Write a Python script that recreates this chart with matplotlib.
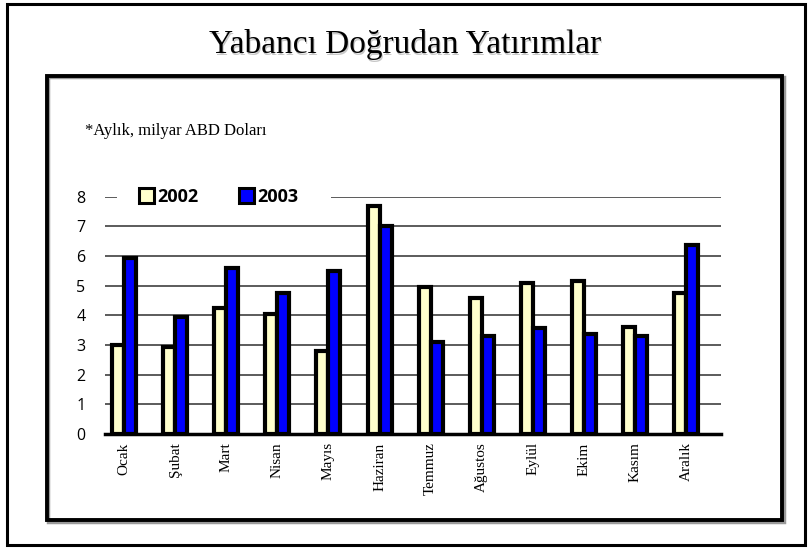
import matplotlib
matplotlib.use("Agg")
import matplotlib.pyplot as plt
from matplotlib.patches import Rectangle, Patch
import numpy as np

months = ["Ocak", "Şubat", "Mart", "Nisan", "Mayıs", "Haziran", "Temmuz",
          "Ağustos", "Eylül", "Ekim", "Kasım", "Aralık"]
v2002 = [3.0, 2.94, 4.25, 4.03, 2.8, 7.69, 4.94, 4.6, 5.1, 5.16, 3.61, 4.76]
v2003 = [5.95, 3.95, 5.58, 4.74, 5.49, 7.0, 3.11, 3.31, 3.58, 3.36, 3.31, 6.36]
series_labels = ["2002", "2003"]
yticks = [0, 1, 2, 3, 4, 5, 6, 7, 8]
title = "Yabancı Doğrudan Yatırımlar"
subtitle = "*Aylık, milyar ABD Doları"

W, H = 809, 548
fig = plt.figure(figsize=(W / 100, H / 100), dpi=100)
fig.patch.set_facecolor("white")

def fx(px):
    return px / W

def fy(py):
    return 1 - py / H

# outer frame
fig.patches.append(Rectangle((fx(7), fy(545)), fx(805) - fx(7), fy(4) - fy(545),
                             transform=fig.transFigure, fill=False,
                             edgecolor="black", linewidth=2.2, zorder=0))
# inner box shadow + box
fig.patches.append(Rectangle((fx(48), fy(522)), fx(784) - fx(48), fy(77) - fy(522),
                             transform=fig.transFigure, fill=False,
                             edgecolor="#9a9a9a", linewidth=2.5, zorder=0))
fig.patches.append(Rectangle((fx(47), fy(520)), fx(782) - fx(47), fy(76) - fy(520),
                             transform=fig.transFigure, fill=False,
                             edgecolor="black", linewidth=2.8, zorder=0))

# title with slight shadow
fig.text(fx(406), fy(46), title, ha="center", va="center",
         fontsize=24, family="Liberation Serif", color="#c8c8c8")
fig.text(fx(405), fy(45), title, ha="center", va="center",
         fontsize=24, family="Liberation Serif", color="black")
fig.text(fx(85), fy(131), subtitle, ha="left", va="center",
         fontsize=12, family="Liberation Serif", color="black")

ax = fig.add_axes([fx(105), fy(434), fx(721) - fx(105), fy(196.7) - fy(434)])
x = np.arange(len(months))
bw = 0.235
ax.bar(x - bw / 2, v2002, bw, color="#ffffcc", edgecolor="black", linewidth=3.0, zorder=3)
ax.bar(x + bw / 2, v2003, bw, color="#0000ff", edgecolor="black", linewidth=3.0, zorder=3)

ax.set_xlim(-0.372, 11.68)
ax.set_ylim(0, 8)
ax.set_yticks(yticks)
ax.set_yticklabels([str(t) for t in yticks], family="Open Sans", fontsize=11.5)
ax.tick_params(axis="y", length=0, pad=14)
ax.set_xticks(x)
ax.set_xticklabels(months, rotation=90, family="Liberation Serif", fontsize=11,
                   va="top", ha="center")
ax.tick_params(axis="x", length=0, pad=6)
ax.yaxis.grid(True, color="#404040", linewidth=1.2, zorder=1)
ax.set_axisbelow(True)
for s in ["top", "right", "left"]:
    ax.spines[s].set_visible(False)
ax.spines["bottom"].set_linewidth(2.5)
ax.spines["bottom"].set_zorder(4)
ax.patch.set_alpha(0)

axw = fx(721) - fx(105)
# white band behind the legend that interrupts the top gridline
ax.add_patch(Rectangle(((fx(117) - fx(105)) / axw, 0.97), (fx(331) - fx(117)) / axw, 0.06,
                       transform=ax.transAxes, facecolor="white", edgecolor="none",
                       zorder=2, clip_on=False))

handles = [Patch(facecolor="#ffffcc", edgecolor="black", linewidth=2.2),
           Patch(facecolor="#0000ff", edgecolor="black", linewidth=2.2)]
leg = ax.legend(handles, series_labels, ncol=2, loc="center left",
                bbox_to_anchor=((fx(137) - fx(105)) / axw, 1.0),
                frameon=False,
                prop={"family": "Open Sans", "weight": "bold", "size": 13},
                handlelength=0.85, handleheight=0.85, handletextpad=0.2,
                columnspacing=2.2, borderpad=0.1, borderaxespad=0)
leg.set_zorder(5)

fig.savefig("out.png", dpi=100)
